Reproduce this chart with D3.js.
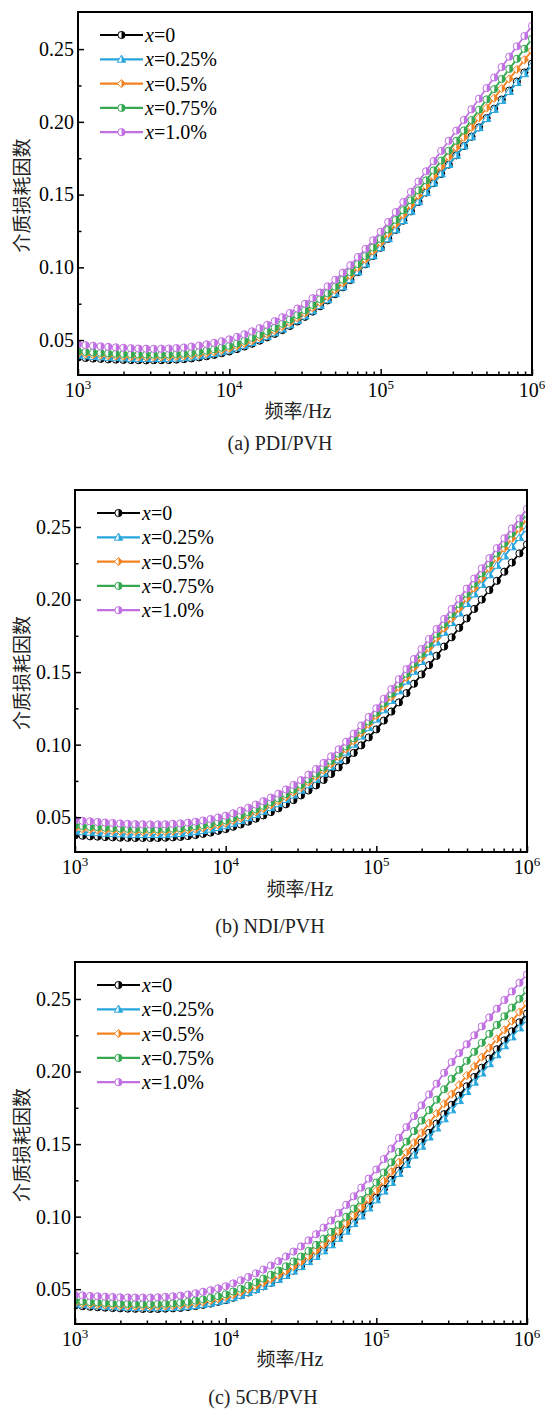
<!DOCTYPE html>
<html>
<head>
<meta charset="utf-8">
<script src="https://cdn.jsdelivr.net/npm/d3@7"></script>
<style>
  body { margin: 0; background: #fff; }
  svg { display: block; }
</style>
</head>
<body>
<div id="chart"></div>
<script>
// frequency points, Hz (20 per decade)
const freqHz = [1000,1122,1259,1413,1585,1778,1995,2239,2512,2818,3162,3548,3981,4467,5012,5623,6310,7079,7943,8913,
  10000,11220,12589,14125,15849,17783,19953,22387,25119,28184,31623,35481,39811,44668,50119,56234,63096,70795,79433,89125,
  100000,112202,125893,141254,158489,177828,199526,223872,251189,281838,316228,354813,398107,446684,501187,562341,630957,707946,794328,891251,1000000];

// (a) PDI/PVH
const pdiX0 = [0.0380,0.0377,0.0373,0.0371,0.0368,0.0366,0.0364,0.0363,0.0362,0.0361,0.0362,
  0.0362,0.0363,0.0366,0.0369,0.0374,0.0381,0.0389,0.0399,0.0410,0.0422,
  0.0438,0.0456,0.0475,0.0496,0.0519,0.0543,0.0569,0.0597,0.0628,0.0660,
  0.0696,0.0733,0.0773,0.0816,0.0863,0.0913,0.0967,0.1021,0.1078,0.1135,
  0.1196,0.1258,0.1321,0.1385,0.1450,0.1514,0.1578,0.1642,0.1706,0.1770,
  0.1834,0.1898,0.1962,0.2026,0.2090,0.2153,0.2215,0.2277,0.2339,0.2400];
const pdiX025 = [0.0395,0.0391,0.0387,0.0384,0.0381,0.0378,0.0376,0.0374,0.0373,0.0372,0.0372,
  0.0372,0.0373,0.0375,0.0378,0.0383,0.0390,0.0398,0.0407,0.0418,0.0430,
  0.0446,0.0463,0.0482,0.0503,0.0525,0.0549,0.0575,0.0603,0.0633,0.0665,
  0.0700,0.0737,0.0776,0.0819,0.0865,0.0915,0.0968,0.1022,0.1078,0.1135,
  0.1196,0.1258,0.1321,0.1385,0.1450,0.1514,0.1578,0.1642,0.1706,0.1770,
  0.1833,0.1896,0.1959,0.2022,0.2085,0.2147,0.2208,0.2269,0.2330,0.2390];
const pdiX05 = [0.0407,0.0403,0.0399,0.0396,0.0393,0.0390,0.0388,0.0386,0.0385,0.0384,0.0384,
  0.0384,0.0385,0.0387,0.0390,0.0395,0.0402,0.0410,0.0419,0.0430,0.0442,
  0.0459,0.0477,0.0496,0.0518,0.0541,0.0566,0.0593,0.0621,0.0652,0.0685,
  0.0722,0.0760,0.0801,0.0845,0.0893,0.0944,0.0999,0.1054,0.1112,0.1170,
  0.1233,0.1297,0.1362,0.1428,0.1495,0.1561,0.1627,0.1693,0.1759,0.1825,
  0.1893,0.1960,0.2028,0.2095,0.2163,0.2229,0.2295,0.2360,0.2426,0.2490];
const pdiX075 = [0.0423,0.0419,0.0415,0.0412,0.0409,0.0406,0.0404,0.0402,0.0401,0.0400,0.0400,
  0.0400,0.0401,0.0404,0.0407,0.0412,0.0419,0.0427,0.0437,0.0448,0.0460,
  0.0477,0.0495,0.0515,0.0537,0.0560,0.0585,0.0612,0.0641,0.0672,0.0705,
  0.0742,0.0781,0.0822,0.0867,0.0915,0.0967,0.1022,0.1078,0.1136,0.1195,
  0.1260,0.1326,0.1393,0.1461,0.1530,0.1598,0.1666,0.1734,0.1802,0.1870,
  0.1941,0.2012,0.2083,0.2154,0.2225,0.2295,0.2364,0.2433,0.2502,0.2570];
const pdiX10 = [0.0470,0.0465,0.0461,0.0457,0.0453,0.0450,0.0447,0.0444,0.0442,0.0441,0.0440,
  0.0441,0.0442,0.0445,0.0449,0.0455,0.0462,0.0471,0.0481,0.0492,0.0505,
  0.0522,0.0540,0.0560,0.0582,0.0605,0.0630,0.0657,0.0686,0.0717,0.0750,
  0.0788,0.0827,0.0869,0.0914,0.0963,0.1015,0.1071,0.1127,0.1186,0.1245,
  0.1312,0.1380,0.1449,0.1519,0.1590,0.1660,0.1730,0.1800,0.1870,0.1940,
  0.2013,0.2086,0.2159,0.2232,0.2305,0.2377,0.2448,0.2519,0.2590,0.2660];

// (b) NDI/PVH
const ndiX0 = [0.0375,0.0372,0.0368,0.0366,0.0363,0.0361,0.0359,0.0358,0.0357,0.0357,0.0357,
  0.0357,0.0359,0.0361,0.0364,0.0370,0.0377,0.0385,0.0394,0.0406,0.0418,
  0.0434,0.0450,0.0469,0.0490,0.0512,0.0535,0.0561,0.0589,0.0618,0.0650,
  0.0684,0.0719,0.0757,0.0798,0.0843,0.0891,0.0943,0.0995,0.1050,0.1105,
  0.1166,0.1228,0.1291,0.1355,0.1420,0.1484,0.1548,0.1612,0.1676,0.1740,
  0.1805,0.1870,0.1935,0.2000,0.2065,0.2129,0.2192,0.2255,0.2318,0.2380];
const ndiX025 = [0.0403,0.0399,0.0395,0.0392,0.0389,0.0386,0.0384,0.0382,0.0381,0.0380,0.0380,
  0.0380,0.0381,0.0384,0.0387,0.0392,0.0399,0.0407,0.0417,0.0428,0.0440,
  0.0457,0.0475,0.0495,0.0517,0.0540,0.0565,0.0592,0.0621,0.0652,0.0685,
  0.0722,0.0761,0.0802,0.0847,0.0895,0.0947,0.1002,0.1058,0.1116,0.1175,
  0.1239,0.1304,0.1370,0.1437,0.1505,0.1572,0.1639,0.1706,0.1773,0.1840,
  0.1906,0.1972,0.2038,0.2104,0.2170,0.2235,0.2299,0.2363,0.2427,0.2490];
const ndiX05 = [0.0423,0.0419,0.0415,0.0412,0.0409,0.0406,0.0404,0.0402,0.0401,0.0400,0.0400,
  0.0400,0.0401,0.0404,0.0407,0.0412,0.0419,0.0427,0.0437,0.0448,0.0460,
  0.0477,0.0495,0.0515,0.0537,0.0560,0.0585,0.0612,0.0641,0.0672,0.0705,
  0.0743,0.0782,0.0824,0.0869,0.0918,0.0970,0.1026,0.1082,0.1141,0.1200,
  0.1265,0.1330,0.1397,0.1464,0.1533,0.1600,0.1668,0.1735,0.1803,0.1870,
  0.1940,0.2009,0.2079,0.2148,0.2218,0.2286,0.2354,0.2421,0.2489,0.2555];
const ndiX075 = [0.0443,0.0439,0.0434,0.0431,0.0428,0.0425,0.0422,0.0420,0.0419,0.0417,0.0417,
  0.0417,0.0419,0.0421,0.0424,0.0430,0.0437,0.0445,0.0454,0.0466,0.0478,
  0.0495,0.0513,0.0533,0.0555,0.0578,0.0603,0.0630,0.0659,0.0690,0.0723,
  0.0761,0.0800,0.0842,0.0888,0.0937,0.0989,0.1045,0.1102,0.1160,0.1220,
  0.1286,0.1352,0.1420,0.1488,0.1558,0.1626,0.1695,0.1763,0.1832,0.1900,
  0.1970,0.2040,0.2110,0.2180,0.2250,0.2319,0.2387,0.2455,0.2523,0.2590];
const ndiX10 = [0.0480,0.0475,0.0471,0.0467,0.0463,0.0460,0.0457,0.0454,0.0452,0.0451,0.0450,
  0.0450,0.0451,0.0454,0.0457,0.0462,0.0469,0.0477,0.0487,0.0498,0.0510,
  0.0527,0.0545,0.0565,0.0587,0.0610,0.0635,0.0662,0.0691,0.0722,0.0755,
  0.0793,0.0832,0.0874,0.0919,0.0968,0.1020,0.1076,0.1132,0.1191,0.1250,
  0.1316,0.1383,0.1451,0.1520,0.1590,0.1659,0.1728,0.1797,0.1866,0.1935,
  0.2005,0.2075,0.2145,0.2215,0.2285,0.2354,0.2422,0.2490,0.2558,0.2625];

// (c) 5CB/PVH
const cbX0 = [0.0387,0.0383,0.0379,0.0376,0.0373,0.0370,0.0368,0.0366,0.0365,0.0364,0.0364,
  0.0364,0.0366,0.0368,0.0371,0.0377,0.0384,0.0392,0.0401,0.0413,0.0425,
  0.0441,0.0458,0.0477,0.0498,0.0520,0.0544,0.0570,0.0598,0.0628,0.0660,
  0.0695,0.0732,0.0771,0.0814,0.0860,0.0910,0.0963,0.1017,0.1073,0.1130,
  0.1192,0.1254,0.1318,0.1382,0.1448,0.1512,0.1577,0.1641,0.1706,0.1770,
  0.1834,0.1898,0.1962,0.2026,0.2090,0.2153,0.2215,0.2277,0.2339,0.2400];
const cbX025 = [0.0397,0.0393,0.0389,0.0385,0.0382,0.0379,0.0377,0.0375,0.0373,0.0372,0.0372,
  0.0372,0.0372,0.0374,0.0376,0.0381,0.0387,0.0395,0.0403,0.0414,0.0425,
  0.0441,0.0457,0.0476,0.0496,0.0518,0.0541,0.0567,0.0594,0.0624,0.0655,
  0.0689,0.0725,0.0763,0.0805,0.0850,0.0899,0.0951,0.1004,0.1059,0.1115,
  0.1175,0.1235,0.1297,0.1359,0.1423,0.1485,0.1548,0.1610,0.1673,0.1735,
  0.1799,0.1862,0.1926,0.1989,0.2053,0.2115,0.2177,0.2238,0.2300,0.2360];
const cbX05 = [0.0405,0.0401,0.0397,0.0394,0.0391,0.0388,0.0386,0.0384,0.0383,0.0382,0.0382,
  0.0383,0.0384,0.0387,0.0390,0.0396,0.0403,0.0412,0.0421,0.0433,0.0445,
  0.0462,0.0480,0.0500,0.0522,0.0545,0.0570,0.0597,0.0626,0.0657,0.0690,
  0.0727,0.0766,0.0807,0.0852,0.0900,0.0952,0.1007,0.1063,0.1121,0.1180,
  0.1244,0.1309,0.1375,0.1442,0.1510,0.1577,0.1644,0.1711,0.1778,0.1845,
  0.1909,0.1972,0.2036,0.2099,0.2163,0.2225,0.2287,0.2348,0.2410,0.2470];
const cbX075 = [0.0420,0.0416,0.0412,0.0409,0.0406,0.0403,0.0401,0.0399,0.0398,0.0397,0.0397,
  0.0398,0.0400,0.0403,0.0407,0.0413,0.0421,0.0430,0.0440,0.0452,0.0465,
  0.0484,0.0503,0.0525,0.0548,0.0573,0.0599,0.0628,0.0658,0.0691,0.0725,
  0.0764,0.0805,0.0848,0.0895,0.0945,0.0999,0.1056,0.1114,0.1174,0.1235,
  0.1304,0.1374,0.1445,0.1517,0.1590,0.1662,0.1734,0.1806,0.1878,0.1950,
  0.2012,0.2074,0.2136,0.2198,0.2260,0.2321,0.2381,0.2441,0.2501,0.2560];
const cbX10 = [0.0460,0.0457,0.0453,0.0451,0.0448,0.0446,0.0444,0.0443,0.0442,0.0442,0.0442,
  0.0444,0.0447,0.0451,0.0456,0.0463,0.0472,0.0482,0.0493,0.0506,0.0520,
  0.0540,0.0561,0.0584,0.0609,0.0635,0.0663,0.0693,0.0725,0.0759,0.0795,
  0.0836,0.0879,0.0924,0.0973,0.1025,0.1081,0.1140,0.1200,0.1262,0.1325,
  0.1397,0.1469,0.1543,0.1617,0.1693,0.1767,0.1842,0.1916,0.1991,0.2065,
  0.2127,0.2188,0.2250,0.2311,0.2373,0.2433,0.2493,0.2552,0.2612,0.2670];

const seriesLabels = ["=0", "=0.25%", "=0.5%", "=0.75%", "=1.0%"];
const seriesColors = ["#000000", "#27a6de", "#f5821f", "#36a852", "#c070e0"];
const seriesShapes = ["circle", "triangle", "diamond", "circle", "circle"];
const yTicks = [0.05, 0.10, 0.15, 0.20, 0.25];
const yMinor = [0.075, 0.125, 0.175, 0.225];
const xTicks = [1e3, 1e4, 1e5, 1e6];
const xExp = ["3", "4", "5", "6"];

const panels = [
  { caption: "(a) PDI/PVH", data: [pdiX0, pdiX025, pdiX05, pdiX075, pdiX10],
    l: 78, t: 12, r: 532, b: 375, titleX: 298, titleY: 418, capX: 280, capY: 450 },
  { caption: "(b) NDI/PVH", data: [ndiX0, ndiX025, ndiX05, ndiX075, ndiX10],
    l: 75, t: 490, r: 527, b: 852, titleX: 300, titleY: 896, capX: 270, capY: 933 },
  { caption: "(c) 5CB/PVH", data: [cbX0, cbX025, cbX05, cbX075, cbX10],
    l: 75, t: 962, r: 527, b: 1324, titleX: 290, titleY: 1366, capX: 263, capY: 1404 }
];

const SERIF = "'Liberation Serif','Times New Roman',serif";
const CJK = "'Noto Sans CJK SC','Noto Sans CJK JP',sans-serif";
const R = 3.6;

// x-axis minor ticks 2..9 per decade
let xMinor = [];
[1e3, 1e4, 1e5].forEach(d => { for (let k = 2; k <= 9; k++) xMinor.push(d * k); });

function shapePaths(shape) {
  if (shape === "triangle") {
    return { full: `M0,${-R-0.6}L${R+0.6},${R*0.8}L${-R-0.6},${R*0.8}Z`,
             half: `M0,${-R-0.6}L${R+0.6},${R*0.8}L0,${R*0.8}Z` };
  }
  if (shape === "diamond") {
    return { full: `M0,${-R-0.5}L${R+0.5},0L0,${R+0.5}L${-R-0.5},0Z`,
             half: `M0,${-R-0.5}L${R+0.5},0L0,${R+0.5}Z` };
  }
  return { full: `M0,${-R}A${R},${R} 0 1 1 0,${R}A${R},${R} 0 1 1 0,${-R}Z`,
           half: `M0,${-R}A${R},${R} 0 0 1 0,${R}Z` };
}

const svg = d3.select("#chart").append("svg")
  .attr("width", 545).attr("height", 1410)
  .style("background", "#fff");

panels.forEach((p, pi) => {
  const x = d3.scaleLog().domain([1e3, 1e6]).range([p.l, p.r]);
  const y = d3.scaleLinear().domain([0.026, 0.2755]).range([p.b, p.t]);
  const g = svg.append("g");

  g.append("clipPath").attr("id", "clip" + pi)
    .append("rect").attr("x", p.l).attr("y", p.t)
    .attr("width", p.r - p.l).attr("height", p.b - p.t);

  const plot = g.append("g").attr("clip-path", `url(#clip${pi})`);
  const line = d3.line().x((d, i) => x(freqHz[i])).y(d => y(d));

  p.data.forEach((vals, si) => {
    const col = seriesColors[si];
    const sp = shapePaths(seriesShapes[si]);
    const sg = plot.append("g");
    sg.append("path").datum(vals).attr("d", line)
      .attr("fill", "none").attr("stroke", col).attr("stroke-width", 1.8);
    const m = sg.selectAll("g.m").data(vals).join("g").attr("class", "m")
      .attr("transform", (d, i) => `translate(${x(freqHz[i])},${y(d)})`);
    m.append("path").attr("d", sp.full).attr("fill", "#fff")
      .attr("stroke", col).attr("stroke-width", 1);
    m.append("path").attr("d", sp.half).attr("fill", col);
  });

  // axes (ticks inward)
  const xa = g.append("g").attr("transform", `translate(0,${p.b})`)
    .call(d3.axisBottom(x).tickValues(xTicks).tickSize(-6).tickFormat(""));
  const xm = g.append("g").attr("transform", `translate(0,${p.b})`)
    .call(d3.axisBottom(x).tickValues(xMinor).tickSize(-3.5).tickFormat(""));
  const ya = g.append("g").attr("transform", `translate(${p.l},0)`)
    .call(d3.axisLeft(y).tickValues(yTicks).tickSize(-6).tickPadding(4).tickFormat(d3.format(".2f")));
  const ym = g.append("g").attr("transform", `translate(${p.l},0)`)
    .call(d3.axisLeft(y).tickValues(yMinor).tickSize(-3.5).tickFormat(""));
  [xa, xm, ya, ym].forEach(a => {
    a.select(".domain").remove();
    a.selectAll(".tick line").attr("stroke", "#000").attr("stroke-width", 1.5);
  });
  ya.selectAll(".tick text").attr("font-family", SERIF).attr("font-size", 20).attr("fill", "#000");

  // x tick labels 10^n
  xTicks.forEach((v, k) => {
    const tx = g.append("text").attr("x", x(v)).attr("y", p.b + 22)
      .attr("text-anchor", "middle").attr("font-family", SERIF).attr("font-size", 20).attr("fill", "#000");
    tx.append("tspan").text("10");
    tx.append("tspan").attr("dy", -8).attr("font-size", 13).text(xExp[k]);
  });

  // frame
  g.append("rect").attr("x", p.l).attr("y", p.t)
    .attr("width", p.r - p.l).attr("height", p.b - p.t)
    .attr("fill", "none").attr("stroke", "#000").attr("stroke-width", 2);

  // axis titles
  const xt = g.append("text").attr("x", p.titleX).attr("y", p.titleY)
    .attr("text-anchor", "middle").attr("font-size", 20).attr("fill", "#222");
  xt.append("tspan").attr("font-family", CJK).attr("font-size", 19).text("频率");
  xt.append("tspan").attr("font-family", SERIF).text("/Hz");

  g.append("text")
    .attr("transform", `translate(20,${(p.t + p.b) / 2 + 2}) rotate(-90)`)
    .attr("text-anchor", "middle").attr("dominant-baseline", "central")
    .attr("font-family", CJK).attr("font-size", 19).attr("fill", "#222")
    .text("介质损耗因数");

  // caption
  g.append("text").attr("x", p.capX).attr("y", p.capY)
    .attr("text-anchor", "middle").attr("font-family", SERIF).attr("font-size", 20).attr("fill", "#222")
    .text(p.caption);

  // legend
  const lg = g.append("g");
  seriesLabels.forEach((lab, si) => {
    const ly = p.t + 23 + si * 24.3;
    const col = seriesColors[si];
    const sp = shapePaths(seriesShapes[si]);
    lg.append("line").attr("x1", p.l + 22).attr("x2", p.l + 65).attr("y1", ly).attr("y2", ly)
      .attr("stroke", col).attr("stroke-width", 2.2);
    const mk = lg.append("g").attr("transform", `translate(${p.l + 43.5},${ly})`);
    mk.append("path").attr("d", sp.full).attr("fill", "#fff").attr("stroke", col).attr("stroke-width", 1);
    mk.append("path").attr("d", sp.half).attr("fill", col);
    const t = lg.append("text").attr("x", p.l + 67).attr("y", ly + 7)
      .attr("font-family", SERIF).attr("font-size", 20).attr("fill", "#000");
    t.append("tspan").attr("font-style", "italic").text("x");
    t.append("tspan").text(lab);
  });
});
</script>
</body>
</html>
